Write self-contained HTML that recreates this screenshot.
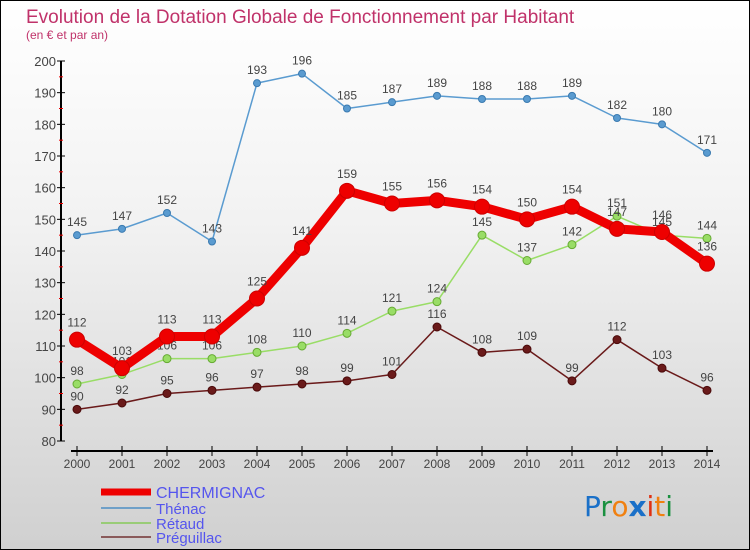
<!DOCTYPE html>
<html><head><meta charset="utf-8"><style>
body{margin:0}
#c{position:relative;width:748px;height:548px;border:1px solid #000;background:linear-gradient(#fff 0%,#f2f2f2 40%,#d0d0d0 100%);font-family:"Liberation Sans",sans-serif;overflow:hidden}
</style></head><body>
<div id="c">
<svg id="s" width="748" height="548" style="position:absolute;left:0;top:0">
<text x="25" y="22" font-size="19" fill="#c0326a">Evolution de la Dotation Globale de Fonctionnement par Habitant</text>
<text x="25" y="38" font-size="12" fill="#c0326a">(en € et par an)</text>
<g id="axes"></g><g id="series"></g>
<g>
<line x1="100" y1="491" x2="150" y2="491" stroke="#e00" stroke-width="7"/>
<text x="155" y="497" font-size="16" fill="#5555ee">CHERMIGNAC</text>
<line x1="100" y1="507" x2="150" y2="507" stroke="#6fa0c8" stroke-width="2"/>
<text x="155" y="513" font-size="15" fill="#5555ee">Thénac</text>
<line x1="100" y1="522" x2="150" y2="522" stroke="#99cc77" stroke-width="2"/>
<text x="155" y="528" font-size="15" fill="#5555ee">Rétaud</text>
<line x1="100" y1="536" x2="150" y2="536" stroke="#8a5a5a" stroke-width="2"/>
<text x="155" y="542" font-size="15" fill="#5555ee">Préguillac</text>
</g>
<g font-size="28" font-family="'DejaVu Sans',sans-serif">
<text x="583" y="515"><tspan fill="#1a70c8">P</tspan><tspan fill="#1a9040">r</tspan><tspan fill="#f08010">o</tspan><tspan fill="#1a70c8" font-weight="bold">x</tspan><tspan fill="#e03010">i</tspan><tspan fill="#f08010">t</tspan><tspan fill="#1a9040">i</tspan></text>
</g>
</svg>
</div>
<script>
const years=[2000,2001,2002,2003,2004,2005,2006,2007,2008,2009,2010,2011,2012,2013,2014];
const chermignac=[112,103,113,113,125,141,159,155,156,154,150,154,147,146,136];
const thenac=[145,147,152,143,193,196,185,187,189,188,188,189,182,180,171];
const retaud=[98,101,106,106,108,110,114,121,124,145,137,142,151,145,144];
const preguillac=[90,92,95,96,97,98,99,101,116,108,109,99,112,103,96];
const yTicks=[80,90,100,110,120,130,140,150,160,170,180,190,200];
const NS="http://www.w3.org/2000/svg";
const X=i=>76+i*45, Y=v=>60+(200-v)*380/120;
function mk(p,t,a){const e=document.createElementNS(NS,t);for(const k in a)e.setAttribute(k,a[k]);p.appendChild(e);return e;}
const ax=document.getElementById('axes');
let l=mk(ax,'line',{x1:60,y1:60,x2:60,y2:440,stroke:'#000','stroke-width':2});


l=mk(ax,'line',{x1:70,y1:450,x2:712,y2:450,stroke:'#000','stroke-width':2});


yTicks.forEach((v,i)=>{
 mk(ax,'line',{x1:56,y1:Y(v),x2:64,y2:Y(v),stroke:'#000'});
 if(i<yTicks.length-1) mk(ax,'line',{x1:58,y1:Y(v+5),x2:62,y2:Y(v+5),stroke:'#e00'});
 const t=mk(ax,'text',{x:55,y:Y(v)+5,'text-anchor':'end','font-size':13,fill:'#444'});t.textContent=v;
 
 
});
years.forEach((y,i)=>{
 mk(ax,'line',{x1:X(i),y1:445,x2:X(i),y2:455,stroke:'#000'});
 const t=mk(ax,'text',{x:X(i),y:467,'text-anchor':'middle','font-size':12,fill:'#444'});t.textContent=y;
 
 
});
const sg=document.getElementById('series');
function draw(data,name,color,dark,w,r){
 const g=mk(sg,'g',{});
 
 
 const pl=mk(g,'polyline',{points:data.map((v,i)=>X(i)+','+Y(v)).join(' '),fill:'none',stroke:color,'stroke-width':w,'stroke-linejoin':'round'});
 
 
 data.forEach((v,i)=>{
  const c=mk(g,'circle',{cx:X(i),cy:Y(v),r:r,fill:color,stroke:dark,'stroke-width':1});
  
  
  const t=mk(g,'text',{x:X(i),y:Y(v)-9-(r>5?4:0),'text-anchor':'middle','font-size':12,fill:'#444'});t.textContent=v;
  
  
 });
}
draw(preguillac,'preguillac','#6a1a1a','#4a0a0a',1.5,4);
draw(retaud,'retaud','#99dd66','#66aa33',1.5,4);
draw(thenac,'thenac','#5a9bd0','#3a7ab0',1.5,3.5);
draw(chermignac,'chermignac','#ee0000','#cc0000',9,7.5);
</script>
</body></html>
